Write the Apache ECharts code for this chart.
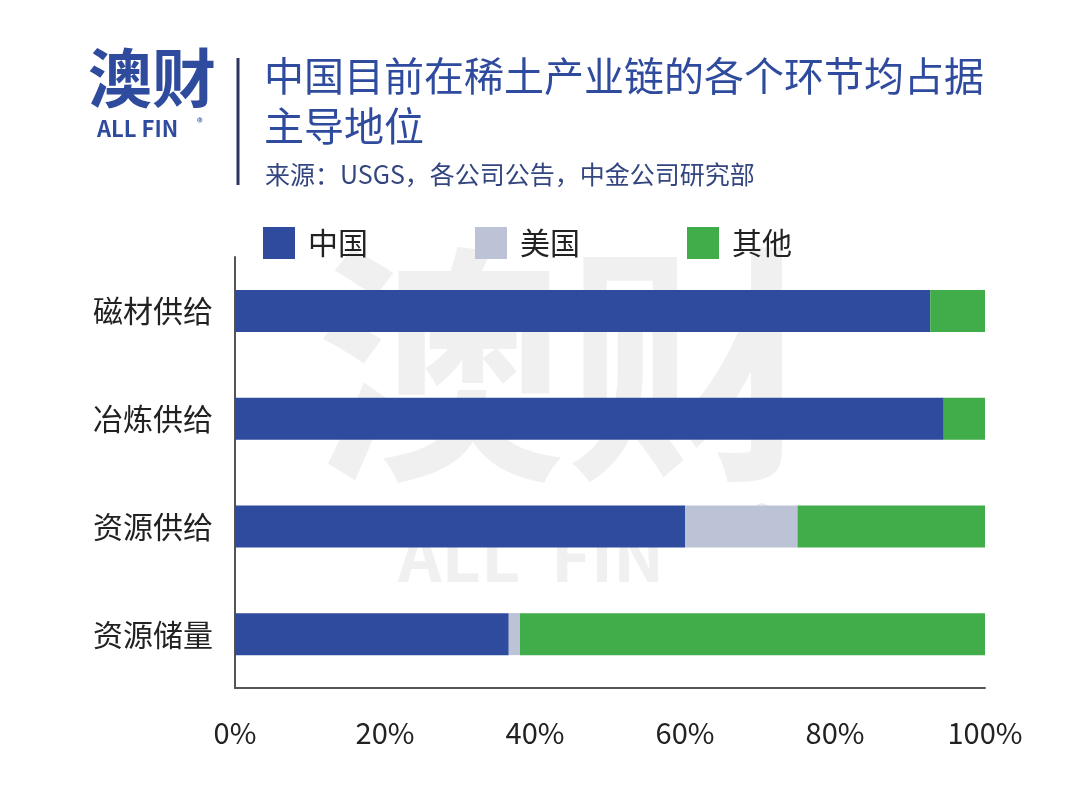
<!DOCTYPE html>
<html><head><meta charset="utf-8">
<script src="https://cdn.jsdelivr.net/npm/echarts@6/dist/echarts.min.js"></script>
<style>html,body{margin:0;padding:0;background:#fff}#c{width:1080px;height:803px}</style>
</head><body><div id="c"></div>
<script>
const categories = ['磁材供给', '冶炼供给', '资源供给', '资源储量'];
const seriesNames = ['中国', '美国', '其他'];
const china = [92.7, 94.5, 60, 36.5];
const usa = [0, 0, 15, 1.5];
const other = [7.3, 5.5, 25, 62];
const xTicks = [0, 20, 40, 60, 80, 100];

const FONT = '"Noto Sans CJK SC", "Noto Sans", sans-serif';
const colors = ['#2f4b9d', '#bcc3d6', '#41ad4a'];
const chart = echarts.init(document.getElementById('c'), null, {renderer: 'canvas'});
const seriesData = [china, usa, other];
chart.setOption({
  backgroundColor: '#fff',
  animation: false,
  textStyle: {fontFamily: FONT},
  title: [{
    text: '中国目前在稀土产业链的各个环节均占据\n主导地位',
    left: 259, top: 46,
    textStyle: {fontSize: 40, fontWeight: 400, color: '#2f4b9d', lineHeight: 50, fontFamily: FONT}
  }, {
    text: '来源：USGS，各公司公告，中金公司研究部',
    left: 260, top: 157,
    textStyle: {fontSize: 25, fontWeight: 400, color: '#34467f', fontFamily: FONT}
  }],
  legend: {
    data: seriesNames,
    left: 258, top: 222,
    itemWidth: 32, itemHeight: 32, itemGap: 107,
    icon: 'rect',
    textStyle: {fontSize: 30, color: '#222', padding: [0, 0, 0, 8], fontFamily: FONT}
  },
  grid: {left: 235, right: 95, top: 257, bottom: 115},
  xAxis: {
    type: 'value', min: xTicks[0], max: xTicks[xTicks.length - 1], interval: 20,
    axisLine: {show: true, lineStyle: {color: '#555', width: 2}},
    axisTick: {show: false},
    splitLine: {show: false},
    axisLabel: {formatter: '{value}%', fontSize: 29, color: '#222', margin: 30, fontFamily: FONT}
  },
  yAxis: {
    type: 'category', data: categories, inverse: true,
    axisLine: {show: true, lineStyle: {color: '#555', width: 2}},
    axisTick: {show: false},
    axisLabel: {fontSize: 30, color: '#222', margin: 22, fontFamily: FONT}
  },
  graphic: [
    {type: 'text', z: 0, left: 316, top: 240, style: {text: '澳财', font: 'bold 250px ' + FONT, fill: '#f0f0f0'}},
    {type: 'text', z: 0, left: 398, top: 522, style: {text: 'ALL  FIN', font: 'bold 68px ' + FONT, fill: '#f0f0f0'}},
    {type: 'text', z: 0, left: 752, top: 500, style: {text: '®', font: '42px ' + FONT, fill: '#ececec'}},
    {type: 'text', left: 88, top: 46, style: {text: '澳财', font: 'bold 64px ' + FONT, fill: '#2f4b9d'}},
    {type: 'text', left: 97, top: 118, style: {text: 'ALL FIN', font: 'bold 22px ' + FONT, fill: '#2f4b9d'}},
    {type: 'text', left: 197, top: 116, style: {text: '®', font: '12px ' + FONT, fill: '#2f4b9d'}},
    {type: 'line', shape: {x1: 238, y1: 58, x2: 238, y2: 185}, style: {stroke: '#2b3562', lineWidth: 3}}
  ],
  series: seriesNames.map((n, i) => ({
    name: n, type: 'bar', stack: 'total', barWidth: 42, z: 2,
    itemStyle: {color: colors[i]},
    data: seriesData[i]
  }))
});
</script></body></html>
